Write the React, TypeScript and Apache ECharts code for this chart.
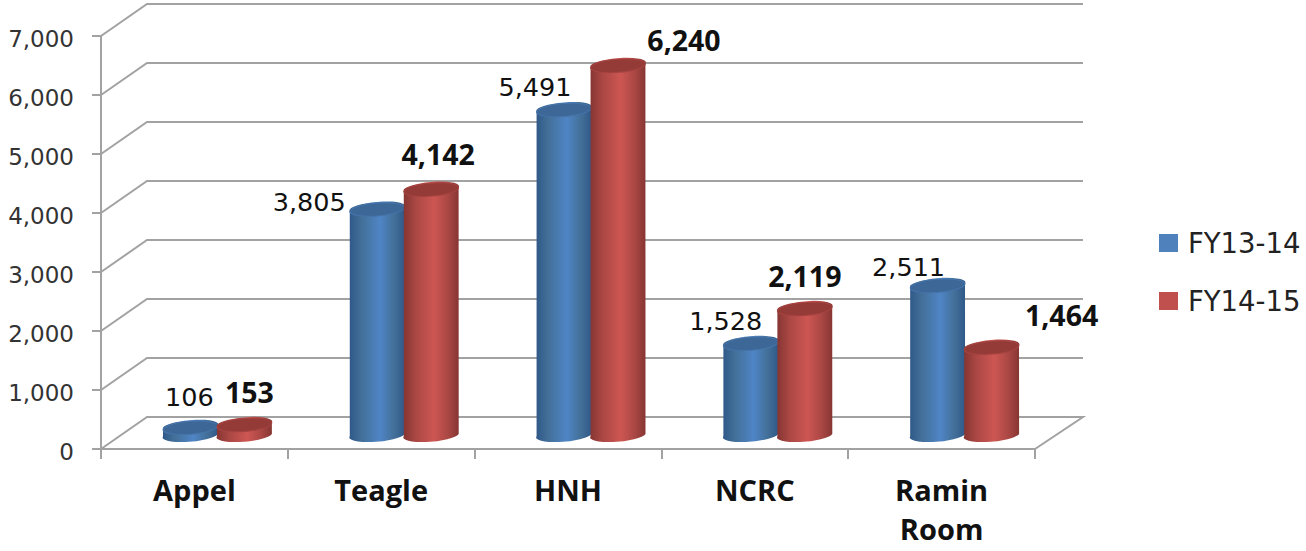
import React, { useEffect, useRef } from "react";
import * as echarts from "echarts";

const categories = ["Appel", "Teagle", "HNH", "NCRC", "Ramin\nRoom"];
const fy1314 = [106, 3805, 5491, 1528, 2511];
const fy1415 = [153, 4142, 6240, 2119, 1464];
const valueTicks = [0, 1000, 2000, 3000, 4000, 5000, 6000, 7000];

// Offsets of each value label from the top of its cylinder
const labelOffsets1314 = [[-1, -31], [-68, -8], [-29, -23], [-25, -23], [-29, -19]];
const labelOffsets1415 = [[5, -33], [7, -36], [66, -26], [0, -33], [70, -33]];

const FONT = '"DejaVu Sans", sans-serif';
const BOLD_FONT = '"Open Sans", sans-serif';
const DEPTH_X = 46;
const DEPTH_Y = -32;
const RX = 27.5;
const RY = 6.5;
const TILT = (4.5 * Math.PI) / 180;
const GRID_COLOR = "#a2a2a2";

const edgeGradient = (edge: string, mid: string, centre: string) => ({
  type: "linear",
  x: 0,
  y: 0,
  x2: 1,
  y2: 0,
  colorStops: [
    { offset: 0, color: edge },
    { offset: 0.22, color: mid },
    { offset: 0.55, color: centre },
    { offset: 0.8, color: mid },
    { offset: 1, color: edge },
  ],
});

// One 3D cylinder standing on the floor, with its value label
const cylinder = (
  shift: number,
  offsets: number[][],
  bold: boolean,
  body: any,
  cap: string,
  capEdge: string
) => (params: any, api: any) => {
  const value = api.value(1);
  const base = api.coord([api.value(0), 0]);
  const top = api.coord([api.value(0), value]);
  const cx = base[0] + DEPTH_X / 2 + shift;
  const by = base[1] + DEPTH_Y / 2 + 1;
  const ty = top[1] + DEPTH_Y / 2 + 1;
  const dx = RX * Math.cos(TILT);
  const dy = RX * Math.sin(TILT);
  const deg = (-TILT * 180) / Math.PI;
  const d =
    `M${cx - dx} ${ty + dy}L${cx - dx} ${by + dy}` +
    `A${RX} ${RY} ${deg} 0 0 ${cx + dx} ${by - dy}` +
    `L${cx + dx} ${ty - dy}` +
    `A${RX} ${RY} ${deg} 0 0 ${cx - dx} ${ty + dy}Z`;
  const offset = offsets[params.dataIndex];
  return {
    type: "group",
    children: [
      { type: "path", shape: { pathData: d }, style: { fill: body } },
      {
        type: "ellipse",
        x: cx,
        y: ty,
        rotation: TILT,
        shape: { cx: 0, cy: 0, rx: RX, ry: RY },
        style: { fill: cap, stroke: capEdge, lineWidth: 1 },
      },
      {
        type: "text",
        z2: 10,
        style: {
          x: cx + offset[0],
          y: ty + offset[1],
          text: value.toLocaleString("en-US"),
          fill: "#111111",
          font: bold ? `bold 28.5px ${BOLD_FONT}` : `25.5px ${FONT}`,
          align: "center",
          verticalAlign: "middle",
        },
      },
    ],
  };
};

// Gridlines running along the side wall and the back wall
const renderWalls = (params: any, api: any) => {
  const { x, width } = params.coordSys;
  const y = api.coord([0, api.value(1)])[1];
  const right = x + width;
  const points = [
    [x, y],
    [x + DEPTH_X, y + DEPTH_Y],
    [right + DEPTH_X + 2, y + DEPTH_Y],
  ];
  if (api.value(1) === 0) points.push([right, y]);
  return {
    type: "polyline",
    shape: { points },
    style: { stroke: GRID_COLOR, lineWidth: 2, fill: "none" },
  };
};

export default function App() {
  const ref = useRef<HTMLDivElement>(null);

  useEffect(() => {
    const chart = echarts.init(ref.current!, null, { renderer: "svg" });
    chart.setOption({
      animation: false,
      backgroundColor: "#ffffff",
      grid: { left: 101, top: 36, width: 934, height: 413 },
      legend: {
        data: ["FY13-14", "FY14-15"],
        orient: "vertical",
        left: 1159,
        top: 228,
        padding: 0,
        itemWidth: 19,
        itemHeight: 18,
        itemGap: 28,
        icon: "rect",
        selectedMode: false,
        textStyle: {
          fontFamily: FONT,
          fontSize: 27.5,
          lineHeight: 28,
          color: "#222222",
          padding: [0, 0, 2, 5],
        },
      },
      xAxis: {
        type: "category",
        data: categories,
        axisLine: { show: true, lineStyle: { color: GRID_COLOR, width: 2 } },
        axisTick: { show: true, length: 10, lineStyle: { color: GRID_COLOR, width: 2 } },
        axisLabel: {
          interval: 0,
          margin: 21,
          fontFamily: BOLD_FONT,
          fontSize: 29,
          fontWeight: "bold",
          color: "#111111",
          lineHeight: 39,
        },
      },
      yAxis: {
        type: "value",
        min: 0,
        max: 7000,
        interval: 1000,
        splitLine: { show: false },
        axisLine: { show: true, lineStyle: { color: GRID_COLOR, width: 2 } },
        axisTick: { show: true, length: 9, lineStyle: { color: GRID_COLOR, width: 2 } },
        axisLabel: {
          margin: 27,
          formatter: (v: number) => `{tick|${v.toLocaleString("en-US")}}`,
          rich: {
            tick: {
              fontFamily: FONT,
              fontSize: 23,
              color: "#333333",
              padding: [5, 0, 0, 0],
            },
          },
        },
      },
      series: [
        {
          name: "walls",
          type: "custom",
          silent: true,
          clip: false,
          encode: { x: 0, y: 1 },
          data: valueTicks.map((v) => [0, v]),
          renderItem: renderWalls,
        },
        {
          name: "FY13-14",
          type: "custom",
          silent: true,
          clip: false,
          encode: { x: 0, y: 1 },
          itemStyle: { color: "#4f81bd" },
          data: fy1314.map((v, i) => [i, v]),
          renderItem: cylinder(
            -27,
            labelOffsets1314,
            false,
            edgeGradient("#2f5888", "#437099", "#4f85c6"),
            "#3c6797",
            "#4673a8"
          ),
        },
        {
          name: "FY14-15",
          type: "custom",
          silent: true,
          clip: false,
          encode: { x: 0, y: 1 },
          itemStyle: { color: "#c0504d" },
          data: fy1415.map((v, i) => [i, v]),
          renderItem: cylinder(
            27,
            labelOffsets1415,
            true,
            edgeGradient("#853532", "#aa4744", "#cd5652"),
            "#943b38",
            "#a44340"
          ),
        },
      ],
    });
    return () => chart.dispose();
  }, []);

  return (
    <div
      ref={ref}
      style={{ position: "absolute", left: 0, top: 0, width: 1306, height: 551 }}
    />
  );
}
